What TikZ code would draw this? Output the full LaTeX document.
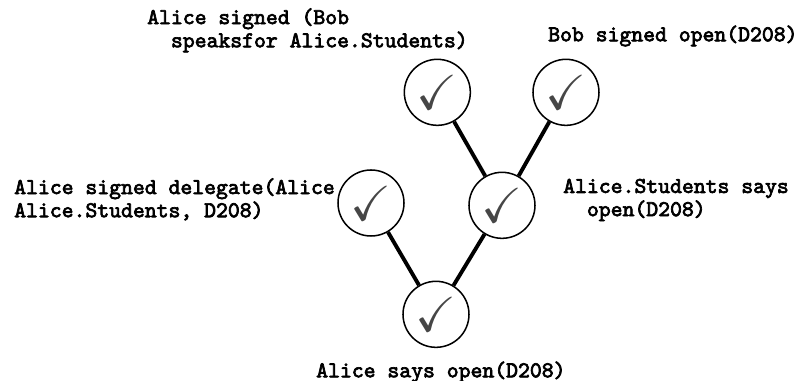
\documentclass[tikz,border=0pt]{standalone}
\usepackage{amssymb}
\usepackage{fontspec}
\newfontfamily\claimfont[FakeBold=3]{lmmono10-regular.otf}
\usetikzlibrary{positioning}

\definecolor{ink}{RGB}{0,0,0}
\definecolor{tick}{RGB}{70,70,70}

\tikzset{
    line cap=round,
    line join=round,
    proved/.style={
        circle,
        draw=ink,
        line width=1.3pt,
        fill=white,
        minimum size=1.98cm,
        inner sep=0pt,
        text=tick,
        font=\fontsize{42}{42}\selectfont
    },
    inference/.style={
        -,
        draw=ink,
        line width=3.3pt
    },
    claim/.style={
        anchor=west,
        inner sep=0pt,
        align=left,
        text=ink,
        font=\claimfont\fontsize{19.3}{19.8}\selectfont
    }
}

\begin{document}
\begin{tikzpicture}
    \useasboundingbox[fill=white] (0,0) rectangle (24.03,11.43);

    % proof tree, leaves on top
    \node[proved] (root) at (13.08, 2.00) {$\checkmark$};
    \node[proved] (deleg) at (11.13, 5.34) {$\checkmark$};
    \node[proved] (group) at (15.06, 5.27) {$\checkmark$};
    \node[proved] (speaks) at (13.12, 8.66) {$\checkmark$};
    \node[proved] (bobreq) at (16.98, 8.66) {$\checkmark$};

    \draw[inference] (speaks) -- (group);
    \draw[inference] (bobreq) -- (group);
    \draw[inference] (deleg) -- (root);
    \draw[inference] (group) -- (root);

    % statements
    \node[claim] (lspeaks) at (4.41, 10.52)
        {Alice signed (Bob\\\hspace*{1.05em}speaksfor Alice.Students)};
    \node[claim] (lbobreq) at (16.44, 10.35) {Bob signed open(D208)};
    \node[claim] (ldeleg) at (0.42, 5.45)
        {Alice signed delegate(Alice\\Alice.Students, D208)};
    \node[claim] (lgroup) at (16.89, 5.43)
        {Alice.Students says\\\hspace*{1.05em}open(D208)};
    \node[claim] (lroot) at (9.48, 0.27) {Alice says open(D208)};

\end{tikzpicture}
\end{document}
